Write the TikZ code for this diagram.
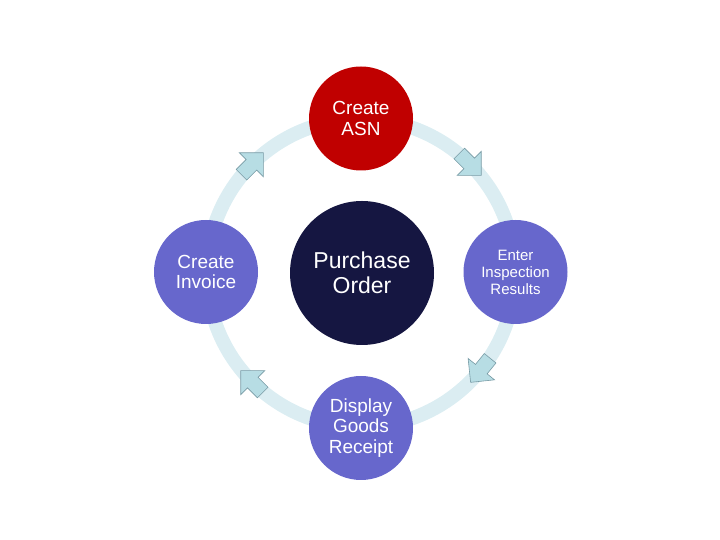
\documentclass[tikz,border=0pt]{standalone}
\usepackage{fontspec}
\setmainfont{Liberation Sans}
\usetikzlibrary{calc}
\definecolor{ringc}{RGB}{219,237,242}
\definecolor{arrowf}{RGB}{183,221,228}
\definecolor{arrowd}{RGB}{120,155,165}
\definecolor{redc}{RGB}{192,0,0}
\definecolor{peri}{RGB}{103,103,204}
\definecolor{navy}{RGB}{21,22,65}
\tikzset{
  outer/.style={circle, minimum size=104pt, inner sep=0pt, text=white, align=center, font=\fontsize{19}{20.5}\selectfont},
  blockarrow/.style={fill=arrowf, draw=arrowd, line width=0.6pt, line join=miter},
}
\begin{document}
\begin{tikzpicture}[x=1pt,y=1pt]
\useasboundingbox (0,0) rectangle (720,540);
\coordinate (C) at (361,267);
% ring
\draw[ringc, line width=14pt] (C) circle[radius=154];
% arrows
\foreach \a in {45,135,-135,-39}{
  \begin{scope}[shift={($(C)+(\a:154)$)}, rotate=\a-90]
    \path[blockarrow] (-15,-7.5) -- (-1,-7.5) -- (-1,-17) -- (16,0) -- (-1,17) -- (-1,7.5) -- (-15,7.5) -- cycle;
  \end{scope}
}
% nodes
\node[circle, minimum size=144pt, inner sep=0pt, fill=navy, text=white, align=center, font=\fontsize{23}{24.5}\selectfont] (po) at (362,267) {Purchase\\Order};
\node[outer, fill=redc] (asn) at (361,421.5) {Create\\ASN};
\node[outer, fill=peri, font=\fontsize{15}{17}\selectfont] (insp) at (515.5,268) {Enter\\Inspection\\Results};
\node[outer, fill=peri] (gr) at (361,112) {Display\\Goods\\Receipt};
\node[outer, fill=peri] (inv) at (206,268) {Create\\Invoice};
\end{tikzpicture}
\end{document}
